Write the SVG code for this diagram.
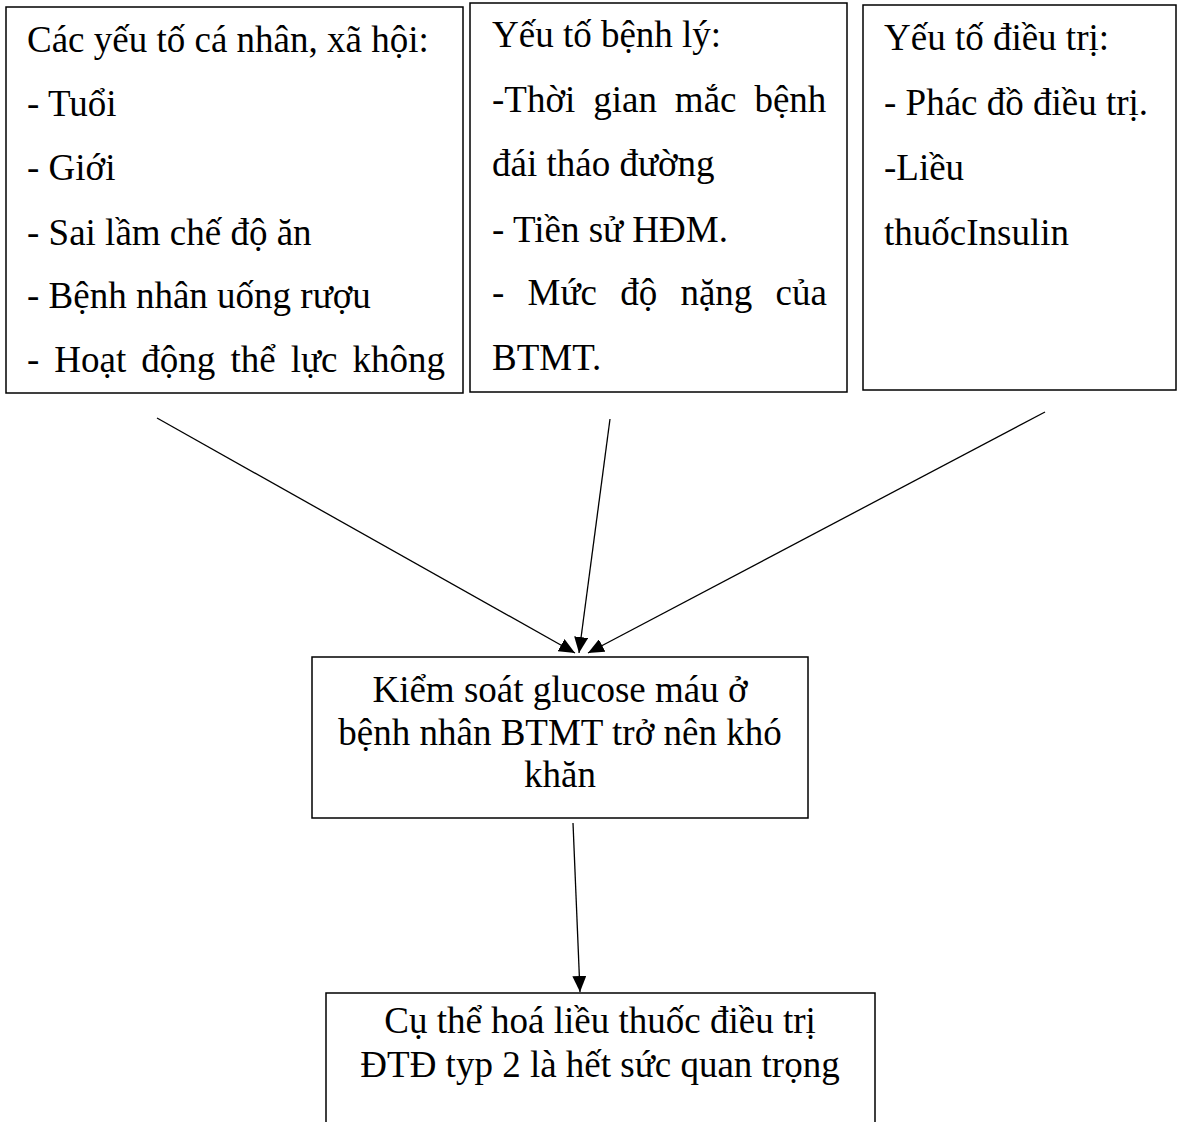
<svg xmlns="http://www.w3.org/2000/svg" width="1179" height="1122" viewBox="0 0 1179 1122">
<style>
.box{fill:#fff;stroke:#000;stroke-width:1.5}
.t{font-family:"Liberation Serif","Times New Roman",serif;font-size:37px;fill:#000}
.c{text-anchor:middle}
.ln{stroke:#000;stroke-width:1.3;fill:none;marker-end:url(#ah)}
</style>
<defs>
<marker id="ah" markerWidth="16" markerHeight="14" refX="16" refY="7" orient="auto" markerUnits="userSpaceOnUse">
<path d="M0,0 L16,7 L0,14 Z" fill="#000"/>
</marker>
</defs>
<rect width="1179" height="1122" fill="#fff"/>
<g id="node-personal">
<rect class="box" x="6" y="7" width="457" height="386"/>
<text class="t" x="27" y="52">Các yếu tố cá nhân, xã hội:</text>
<text class="t" x="27" y="116">- Tuổi</text>
<text class="t" x="27" y="180">- Giới</text>
<text class="t" x="27" y="245">- Sai lầm chế độ ăn</text>
<text class="t" x="27" y="308">- Bệnh nhân uống rượu</text>
<text class="t" x="27" y="372" word-spacing="5.8">- Hoạt động thể lực không</text>
</g>
<g id="node-disease">
<rect class="box" x="470" y="3" width="377" height="389"/>
<text class="t" x="492" y="47">Yếu tố bệnh lý:</text>
<text class="t" x="492" y="112" word-spacing="8.7">-Thời gian mắc bệnh</text>
<text class="t" x="492" y="176">đái tháo đường</text>
<text class="t" x="492" y="242">- Tiền sử HĐM.</text>
<text class="t" x="492" y="305" word-spacing="14">- Mức độ nặng của</text>
<text class="t" x="492" y="370">BTMT.</text>
</g>
<g id="node-treatment">
<rect class="box" x="863" y="5" width="313" height="385"/>
<text class="t" x="884" y="50">Yếu tố điều trị:</text>
<text class="t" x="884" y="115">- Phác đồ điều trị.</text>
<text class="t" x="884" y="180">-Liều</text>
<text class="t" x="884" y="245">thuốcInsulin</text>
</g>
<g id="node-control">
<rect class="box" x="312" y="657" width="496" height="161"/>
<text class="t c" x="560" y="702">Kiểm soát glucose máu ở</text>
<text class="t c" x="560" y="745">bệnh nhân BTMT trở nên khó</text>
<text class="t c" x="560" y="787">khăn</text>
</g>
<g id="node-dose">
<path class="box" d="M326,1122 V993 H875 V1122"/>
<text class="t c" x="600" y="1033">Cụ thể hoá liều thuốc điều trị</text>
<text class="t c" x="600" y="1077">ĐTĐ typ 2 là hết sức quan trọng</text>
</g>
<g id="connectors">
<line class="ln" x1="157" y1="418" x2="575" y2="653"/>
<line class="ln" x1="610" y1="419" x2="579" y2="653"/>
<line class="ln" x1="1045" y1="412" x2="588" y2="653"/>
<line class="ln" x1="573" y1="823" x2="580" y2="992"/>
</g>
</svg>
